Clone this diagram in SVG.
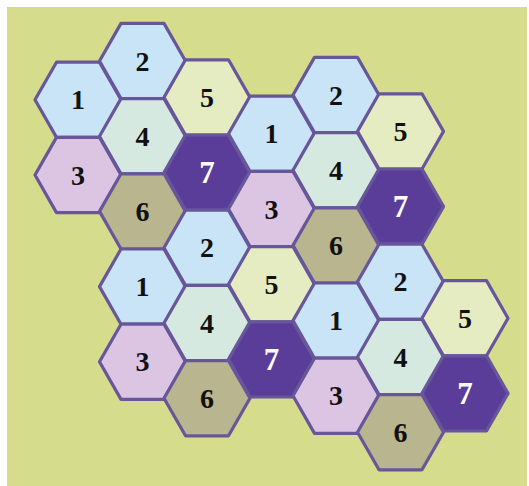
<svg xmlns="http://www.w3.org/2000/svg" xmlns:xlink="http://www.w3.org/1999/xlink" width="529" height="486" viewBox="0 0 529 486">
<style>
.h{stroke:#67579a;stroke-width:3.2;stroke-linejoin:round}
.c1{fill:#c8e4f6}.c2{fill:#c8e4f6}.c3{fill:#dcc5e2}.c4{fill:#d5e9e0}.c5{fill:#e6ecc2}.c6{fill:#b9b58f}.c7{fill:#5a3d99}
.t{font-family:"Liberation Serif","Times New Roman",serif;font-weight:bold;font-size:28px;text-anchor:middle;fill:#111}
.w{fill:#fff;font-size:31px}
</style>
<defs>
<polygon id="hex" points="-43,0 -21.5,-37.6 21.5,-37.6 43,0 21.5,37.6 -21.5,37.6"/>
</defs>
<rect x="0" y="0" width="529" height="486" fill="#ffffff"/>
<rect x="7" y="7" width="520" height="479" fill="#d5dc8b"/>
<g id="connectors"/>
<g id="blockA">
<g id="a1" transform="translate(78,99.8)"><use xlink:href="#hex" class="h c1"/><text class="t" y="9.5">1</text></g>
<g id="a2" transform="translate(142.5,61)"><use xlink:href="#hex" class="h c2"/><text class="t" y="9.5">2</text></g>
<g id="a5" transform="translate(207,97.4)"><use xlink:href="#hex" class="h c5"/><text class="t" y="9.5">5</text></g>
<g id="a4" transform="translate(142.5,136.2)"><use xlink:href="#hex" class="h c4"/><text class="t" y="9.5">4</text></g>
<g id="a3" transform="translate(78,175)"><use xlink:href="#hex" class="h c3"/><text class="t" y="9.5">3</text></g>
<g id="a7" transform="translate(207,172.6)"><use xlink:href="#hex" class="h c7"/><text class="t w" y="10.5">7</text></g>
<g id="a6" transform="translate(142.5,211.4)"><use xlink:href="#hex" class="h c6"/><text class="t" y="9.5">6</text></g>
</g>
<g id="blockB">
<g id="b1" transform="translate(271.5,133.8)"><use xlink:href="#hex" class="h c1"/><text class="t" y="9.5">1</text></g>
<g id="b2" transform="translate(336,95)"><use xlink:href="#hex" class="h c2"/><text class="t" y="9.5">2</text></g>
<g id="b5" transform="translate(400.5,131.4)"><use xlink:href="#hex" class="h c5"/><text class="t" y="9.5">5</text></g>
<g id="b4" transform="translate(336,170.2)"><use xlink:href="#hex" class="h c4"/><text class="t" y="9.5">4</text></g>
<g id="b3" transform="translate(271.5,209)"><use xlink:href="#hex" class="h c3"/><text class="t" y="9.5">3</text></g>
<g id="b7" transform="translate(400.5,206.6)"><use xlink:href="#hex" class="h c7"/><text class="t w" y="10.5">7</text></g>
<g id="b6" transform="translate(336,245.4)"><use xlink:href="#hex" class="h c6"/><text class="t" y="9.5">6</text></g>
</g>
<g id="blockC">
<g id="c1" transform="translate(142.5,286.6)"><use xlink:href="#hex" class="h c1"/><text class="t" y="9.5">1</text></g>
<g id="c2" transform="translate(207,247.8)"><use xlink:href="#hex" class="h c2"/><text class="t" y="9.5">2</text></g>
<g id="c5" transform="translate(271.5,284.2)"><use xlink:href="#hex" class="h c5"/><text class="t" y="9.5">5</text></g>
<g id="c4" transform="translate(207,323)"><use xlink:href="#hex" class="h c4"/><text class="t" y="9.5">4</text></g>
<g id="c3" transform="translate(142.5,361.8)"><use xlink:href="#hex" class="h c3"/><text class="t" y="9.5">3</text></g>
<g id="c7" transform="translate(271.5,359.4)"><use xlink:href="#hex" class="h c7"/><text class="t w" y="10.5">7</text></g>
<g id="c6" transform="translate(207,398.2)"><use xlink:href="#hex" class="h c6"/><text class="t" y="9.5">6</text></g>
</g>
<g id="blockD">
<g id="d1" transform="translate(336,320.6)"><use xlink:href="#hex" class="h c1"/><text class="t" y="9.5">1</text></g>
<g id="d2" transform="translate(400.5,281.8)"><use xlink:href="#hex" class="h c2"/><text class="t" y="9.5">2</text></g>
<g id="d5" transform="translate(465,318.2)"><use xlink:href="#hex" class="h c5"/><text class="t" y="9.5">5</text></g>
<g id="d4" transform="translate(400.5,357)"><use xlink:href="#hex" class="h c4"/><text class="t" y="9.5">4</text></g>
<g id="d3" transform="translate(336,395.8)"><use xlink:href="#hex" class="h c3"/><text class="t" y="9.5">3</text></g>
<g id="d7" transform="translate(465,393.4)"><use xlink:href="#hex" class="h c7"/><text class="t w" y="10.5">7</text></g>
<g id="d6" transform="translate(400.5,432.2)"><use xlink:href="#hex" class="h c6"/><text class="t" y="9.5">6</text></g>
</g>
</svg>
